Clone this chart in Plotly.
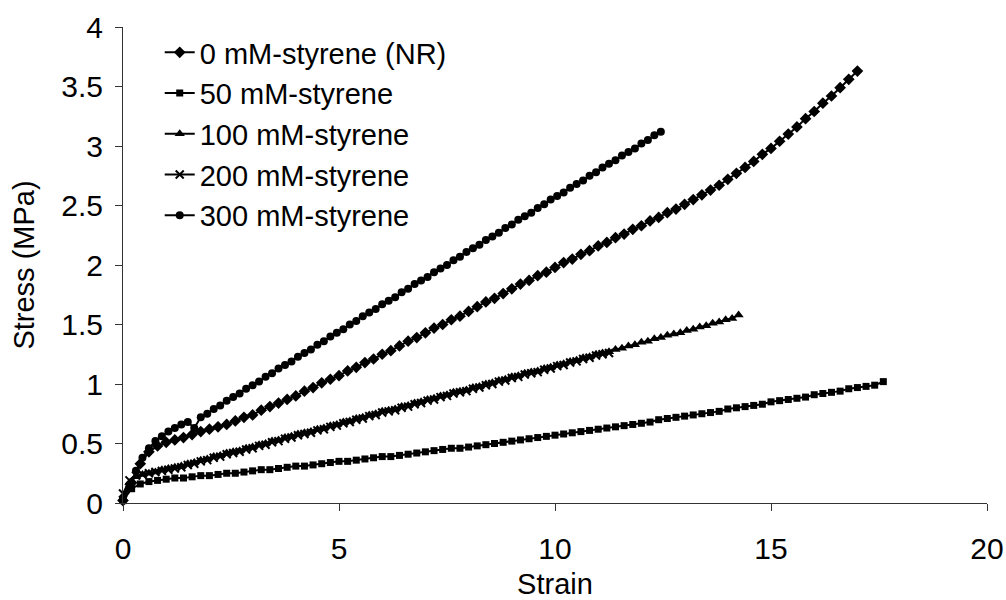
import plotly.graph_objects as go

# Strain sampling grids (test machine records)
STRAIN_A = [0, 0.15, 0.3, 0.45, 0.6, 0.75, 0.9, 1.05, 1.2, 1.35, 1.5, 1.65, 1.8, 1.95,
            2.1, 2.25, 2.4, 2.55, 2.7, 2.85, 3.0, 3.15, 3.3, 3.45, 3.6, 3.75, 3.9, 4.05,
            4.2, 4.35, 4.5, 4.65, 4.8, 4.95, 5.1, 5.25, 5.4, 5.55, 5.7, 5.85, 6.0, 6.15,
            6.3, 6.45, 6.6, 6.75, 6.9, 7.05, 7.2, 7.35, 7.5, 7.65, 7.8, 7.95, 8.1, 8.25,
            8.4, 8.55, 8.7, 8.85, 9.0, 9.15, 9.3, 9.45, 9.6, 9.75, 9.9, 10.05, 10.2, 10.35,
            10.5, 10.65, 10.8, 10.95, 11.1, 11.25, 11.4, 11.55, 11.7, 11.85, 12.0, 12.15,
            12.3, 12.45, 12.6, 12.75, 12.9, 13.05, 13.2, 13.35, 13.5, 13.65, 13.8, 13.95,
            14.1, 14.25]

STRAIN_B = [0, 0.2, 0.4, 0.6, 0.8, 1.0, 1.2, 1.4, 1.6, 1.8, 2.0, 2.2, 2.4, 2.6, 2.8,
            3.0, 3.2, 3.4, 3.6, 3.8, 4.0, 4.2, 4.4, 4.6, 4.8, 5.0, 5.2, 5.4, 5.6, 5.8,
            6.0, 6.2, 6.4, 6.6, 6.8, 7.0, 7.2, 7.4, 7.6, 7.8, 8.0, 8.2, 8.4, 8.6, 8.8,
            9.0, 9.2, 9.4, 9.6, 9.8, 10.0, 10.2, 10.4, 10.6, 10.8, 11.0, 11.2, 11.4, 11.6,
            11.8, 12.0, 12.2, 12.4, 12.6, 12.8, 13.0, 13.2, 13.4, 13.6, 13.8, 14.0, 14.2,
            14.4, 14.6, 14.8, 15.0, 15.2, 15.4, 15.6, 15.8, 16.0, 16.2, 16.4, 16.6, 16.8,
            17.0, 17.2, 17.4, 17.6]

# Stress (MPa) per sample
STRESS_NR = [0.02, 0.17, 0.33, 0.43, 0.48, 0.51, 0.53, 0.55, 0.575, 0.60,
             0.62, 0.64, 0.66, 0.69, 0.72, 0.74, 0.78, 0.81, 0.84, 0.87,
             0.90, 0.94, 0.97, 1.01, 1.04, 1.07, 1.11, 1.14, 1.18, 1.21,
             1.25, 1.28, 1.32, 1.36, 1.39, 1.43, 1.47, 1.50, 1.54, 1.57,
             1.61, 1.65, 1.69, 1.72, 1.76, 1.80, 1.84, 1.87, 1.91, 1.94,
             1.98, 2.02, 2.05, 2.09, 2.12, 2.16, 2.19, 2.23, 2.26, 2.30,
             2.33, 2.37, 2.40, 2.44, 2.47, 2.51, 2.55, 2.59, 2.63, 2.67,
             2.72, 2.77, 2.82, 2.87, 2.93, 2.98, 3.04, 3.10, 3.16, 3.23,
             3.29, 3.36, 3.42, 3.49, 3.56, 3.63]

STRESS_50 = [0.02, 0.12, 0.16, 0.18,
             0.19, 0.20, 0.21, 0.21, 0.22, 0.23, 0.23, 0.24, 0.25, 0.25,
             0.26, 0.27, 0.28, 0.28, 0.29, 0.30, 0.31, 0.31, 0.32, 0.33,
             0.34, 0.35, 0.35, 0.36, 0.37, 0.38, 0.39, 0.39, 0.40, 0.41,
             0.42, 0.43, 0.44, 0.45, 0.46, 0.46, 0.47, 0.48, 0.49, 0.50,
             0.51, 0.52, 0.53, 0.54, 0.55, 0.56, 0.57, 0.58, 0.59, 0.60,
             0.61, 0.62, 0.63, 0.64, 0.65, 0.66, 0.67, 0.68, 0.70, 0.71,
             0.72, 0.73, 0.74, 0.75, 0.76, 0.77, 0.79, 0.80, 0.81, 0.82,
             0.83, 0.85, 0.86, 0.87, 0.88, 0.89, 0.91, 0.92, 0.93, 0.94,
             0.96, 0.97, 0.98, 0.99, 1.02]

STRESS_100 = [0.04, 0.17, 0.22, 0.24, 0.25, 0.26, 0.28, 0.29, 0.30, 0.31, 0.33,
              0.34, 0.36, 0.37, 0.39, 0.40, 0.42, 0.43, 0.44, 0.46, 0.47,
              0.49, 0.50, 0.52, 0.53, 0.55, 0.56, 0.58, 0.59, 0.60, 0.62,
              0.63, 0.65, 0.66, 0.68, 0.69, 0.71, 0.72, 0.74, 0.75, 0.77,
              0.78, 0.79, 0.81, 0.82, 0.84, 0.85, 0.87, 0.88, 0.90, 0.91,
              0.93, 0.94, 0.95, 0.97, 0.98, 1.00, 1.01, 1.03, 1.04, 1.06,
              1.07, 1.09, 1.10, 1.11, 1.13, 1.14, 1.16, 1.17, 1.19, 1.20,
              1.22, 1.23, 1.25, 1.26, 1.27, 1.29, 1.30, 1.32, 1.33, 1.35,
              1.36, 1.38, 1.39, 1.41, 1.42, 1.43, 1.45, 1.46, 1.48, 1.49,
              1.51, 1.52, 1.54, 1.55, 1.58]

STRESS_200 = [0.08, 0.19, 0.23, 0.24, 0.25, 0.26, 0.27, 0.28, 0.29, 0.30, 0.32,
              0.33, 0.35, 0.36, 0.38, 0.39, 0.41, 0.42, 0.43, 0.45, 0.46,
              0.48, 0.49, 0.51, 0.52, 0.54, 0.55, 0.57, 0.58, 0.59, 0.61,
              0.62, 0.64, 0.65, 0.67, 0.68, 0.70, 0.71, 0.73, 0.74, 0.76,
              0.77, 0.78, 0.80, 0.81, 0.83, 0.84, 0.86, 0.87, 0.89, 0.90,
              0.92, 0.93, 0.94, 0.96, 0.97, 0.99, 1.00, 1.02, 1.03, 1.05,
              1.06, 1.08, 1.09, 1.10, 1.12, 1.13, 1.15, 1.16, 1.18, 1.19,
              1.21, 1.22, 1.24, 1.25, 1.26]

STRESS_300 = [0.03, 0.14, 0.27, 0.38, 0.46, 0.52, 0.56, 0.60, 0.63, 0.66, 0.68, 0.63,
              0.72, 0.75, 0.79, 0.82, 0.86, 0.89, 0.92, 0.96, 0.99, 1.02,
              1.06, 1.09, 1.13, 1.16, 1.19, 1.23, 1.26, 1.29, 1.33, 1.36,
              1.40, 1.43, 1.46, 1.50, 1.53, 1.57, 1.60, 1.63, 1.67, 1.70,
              1.73, 1.77, 1.80, 1.84, 1.87, 1.90, 1.94, 1.97, 2.00, 2.04,
              2.07, 2.11, 2.14, 2.17, 2.21, 2.24, 2.27, 2.31, 2.34, 2.38,
              2.41, 2.44, 2.48, 2.51, 2.55, 2.58, 2.61, 2.65, 2.68, 2.71,
              2.75, 2.78, 2.82, 2.85, 2.88, 2.92, 2.95, 2.98, 3.02, 3.05,
              3.09, 3.12]

SERIES = [
    ("0 mM-styrene (NR)", STRAIN_B, STRESS_NR, "diamond", 9),
    ("50 mM-styrene", STRAIN_B, STRESS_50, "square", 7),
    ("100 mM-styrene", STRAIN_A, STRESS_100, "triangle-up", 9),
    ("200 mM-styrene", STRAIN_A, STRESS_200, "x-thin", 8),
    ("300 mM-styrene", STRAIN_A, STRESS_300, "circle", 8),
]

X_TICKS = [0, 5, 10, 15, 20]
Y_TICKS = [0, 0.5, 1, 1.5, 2, 2.5, 3, 3.5, 4]
Y_TICK_TEXT = ["0", "0.5", "1", "1.5", "2", "2.5", "3", "3.5", "4"]

FONT = "Liberation Sans, Arial, sans-serif"
INK = "#000000"
AXIS_GREY = "#333333"

fig = go.Figure()
for i, (name, strain_grid, stress, symbol, size) in enumerate(SERIES):
    fig.add_trace(go.Scatter(
        x=strain_grid[:len(stress)],
        y=stress,
        name=name,
        legendgroup=f"g{i}",
        mode="lines+markers",
        line=dict(color=INK, width=2),
        marker=dict(symbol=symbol, size=size, color=INK,
                    line=dict(color=INK, width=2 if symbol == "x-thin" else 0)),
        cliponaxis=False,
    ))

fig.update_layout(
    width=1006,
    height=600,
    margin=dict(l=123, r=19, t=27, b=97),
    paper_bgcolor="white",
    plot_bgcolor="white",
    font=dict(family=FONT, color=INK),
    showlegend=True,
    legend=dict(
        x=0.0425, y=1.0, xanchor="left", yanchor="top",
        font=dict(family=FONT, size=29, color=INK),
        bgcolor="rgba(0,0,0,0)",
        tracegroupgap=0,
        itemwidth=30,
    ),
    xaxis=dict(
        range=[0, 20],
        automargin=False,
        tickmode="array", tickvals=X_TICKS,
        ticks="outside", ticklen=7, tickcolor=AXIS_GREY, tickwidth=1,
        showline=True, linecolor=AXIS_GREY, linewidth=1,
        showgrid=False, zeroline=False,
        tickfont=dict(family=FONT, size=30, color=INK),
        ticklabelstandoff=12,
        title=dict(text="Strain", font=dict(family=FONT, size=29, color=INK), standoff=14),
    ),
    yaxis=dict(
        range=[0, 4],
        automargin=False,
        tickmode="array", tickvals=Y_TICKS, ticktext=Y_TICK_TEXT,
        ticks="outside", ticklen=7, tickcolor=AXIS_GREY, tickwidth=1,
        showline=True, linecolor=AXIS_GREY, linewidth=1,
        showgrid=False, zeroline=False,
        tickfont=dict(family=FONT, size=30, color=INK),
        ticklabelstandoff=6,
        title=dict(text="Stress (MPa)", font=dict(family=FONT, size=29, color=INK), standoff=18),
    ),
)

fig.write_html("out.html")
